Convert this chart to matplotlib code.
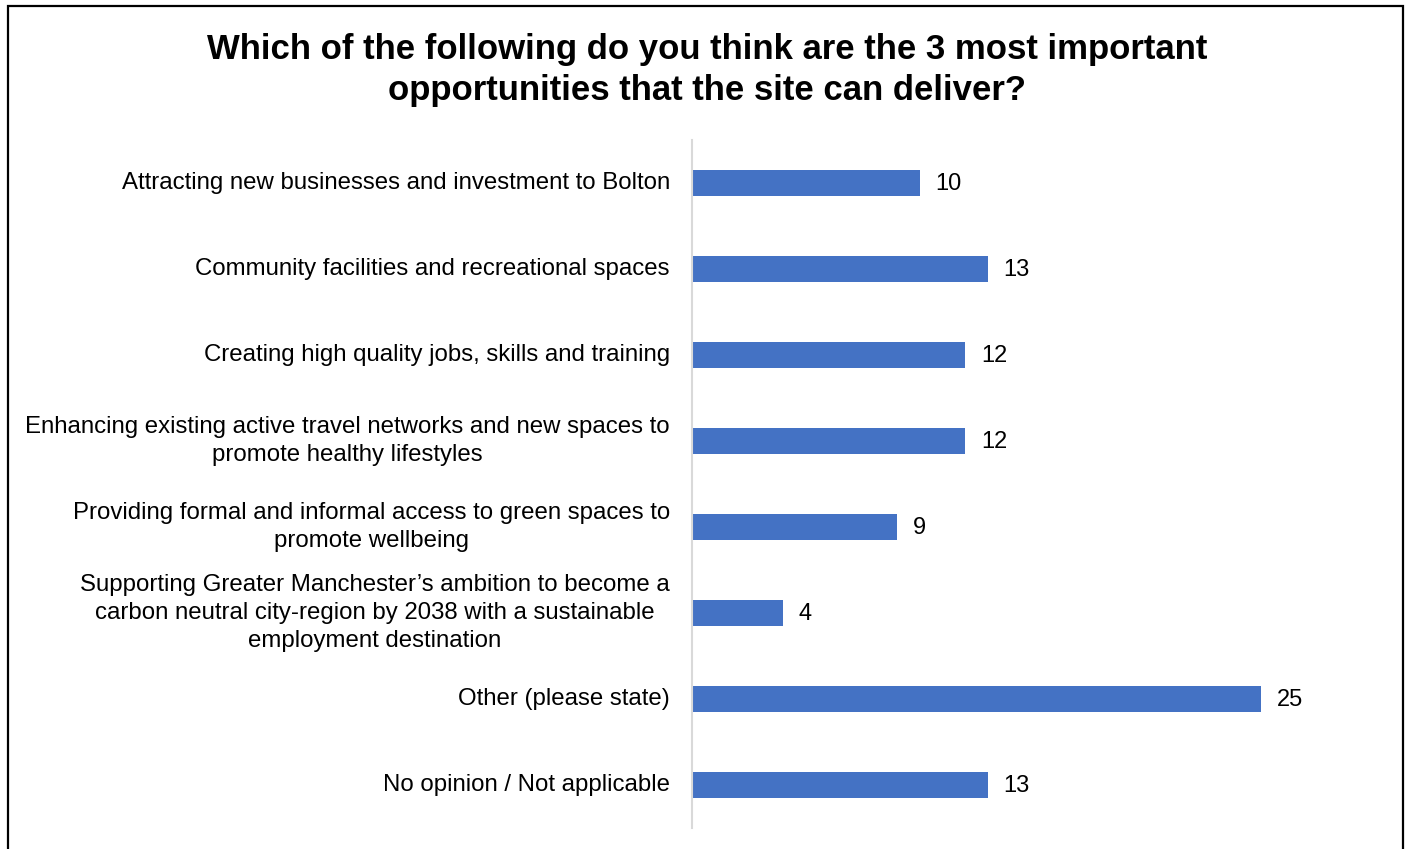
import matplotlib.pyplot as plt
from matplotlib.patches import Rectangle

plt.rcParams['font.family'] = ['Liberation Sans', 'DejaVu Sans']

# Survey responses
categories = [
    "Attracting new businesses and investment to Bolton",
    "Community facilities and recreational spaces",
    "Creating high quality jobs, skills and training",
    "Enhancing existing active travel networks and new spaces to\npromote healthy lifestyles",
    "Providing formal and informal access to green spaces to\npromote wellbeing",
    "Supporting Greater Manchester\u2019s ambition to become a\ncarbon neutral city-region by 2038 with a sustainable\nemployment destination",
    "Other (please state)",
    "No opinion / Not applicable",
]
counts = [10, 13, 12, 12, 9, 4, 25, 13]

title = ("Which of the following do you think are the 3 most important\n"
         "opportunities that the site can deliver?")

W, H = 1408, 849
fig = plt.figure(figsize=(W / 100, H / 100), dpi=100)

# plot area in pixel terms
left, right = 692, 1374.5
top, bottom = 140, 828
ax = fig.add_axes([left / W, (H - bottom) / H, (right - left) / W, (bottom - top) / H])

bar_color = "#4472C4"
y = list(range(len(categories)))
ax.barh(y, counts, height=0.3, color=bar_color)
ax.set_xlim(0, 30)
ax.set_ylim(len(categories) - 0.5, -0.5)

for yi, v in zip(y, counts):
    ax.text(v + 0.7, yi + 0.015, str(v), va="center", ha="left", fontsize=17, color="black")

ax.set_yticks(y)
ax.set_yticklabels(categories, fontsize=17.3, multialignment="center",
                   linespacing=1.38, va="center")
ax.tick_params(axis="y", length=0, pad=16)
ax.set_xticks([])

for s in ["top", "right", "bottom"]:
    ax.spines[s].set_visible(False)
ax.spines["left"].set_color("#d9d9d9")
ax.spines["left"].set_linewidth(1.5)

fig.text(707 / W, 1 - 70 / H, title, ha="center", va="center",
         fontsize=25, fontweight="bold", linespacing=1.3)

# outer chart border
fig.patches.append(Rectangle((8 / W, -0.05), (1403 - 8) / W, 1.05 - 6 / H,
                             transform=fig.transFigure, fill=False,
                             edgecolor="black", linewidth=1.6))

fig.savefig("out.png", dpi=100)
